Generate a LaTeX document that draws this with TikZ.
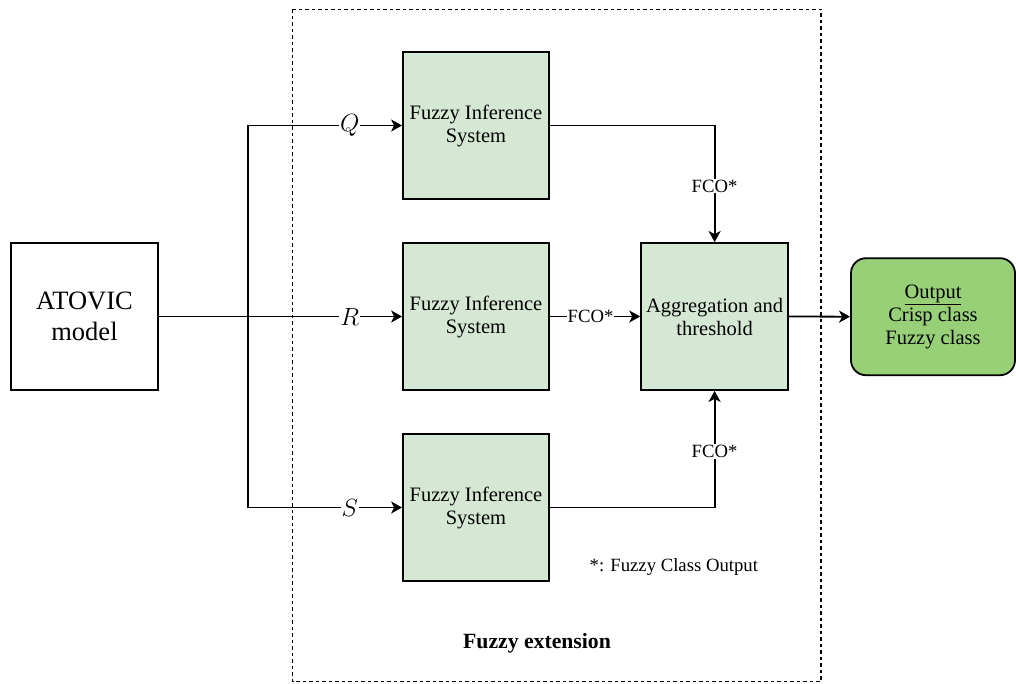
\documentclass[tikz,border=0pt]{standalone}
\usepackage{fontspec}
\setmainfont{Liberation Serif}
\usetikzlibrary{arrows.meta}
\definecolor{fisgreen}{HTML}{D5E8D4}
\definecolor{outgreen}{HTML}{97D077}

\begin{document}
\begin{tikzpicture}[x=1pt,y=-1pt,
  line width=1.8pt,
  block/.style={draw=black, line width=1.8pt, align=center, inner sep=0pt,
    minimum width=146pt, minimum height=147pt,
    font=\fontsize{20.5}{23}\selectfont},
  fisbox/.style={block, fill=fisgreen},
  outbox/.style={draw=black, line width=1.8pt, fill=outgreen, rounded corners=15pt,
    align=center, inner sep=0pt, minimum width=164pt, minimum height=117pt,
    font=\fontsize{20.5}{23}\selectfont},
  frame/.style={draw=black, line width=1.4pt, dash pattern=on 3.5pt off 3pt},
  conn/.style={draw=black, line width=1.8pt},
  arr/.style={conn, -{Stealth[length=11pt,width=12pt,inset=3pt]}},
  varlabel/.style={fill=white, inner sep=1pt, font=\fontsize{23}{25}\selectfont},
  fcolabel/.style={fill=white, inner sep=1pt, font=\fontsize{18.7}{20}\selectfont}
]
\useasboundingbox (0,0) rectangle (1016,684);

% dashed frame of the fuzzy extension
\draw[frame] (292.7,9.3) rectangle (821,681.7);

% blocks
\node[block, minimum width=147pt, font=\fontsize{26.5}{31}\selectfont] (atovic) at (84.5,316.5) {ATOVIC\\model};
\node[fisbox] (fisq) at (476,125.5) {Fuzzy Inference\\System};
\node[fisbox] (fisr) at (476,316.5) {Fuzzy Inference\\System};
\node[fisbox] (fiss) at (476,507.5) {Fuzzy Inference\\System};
\node[fisbox, minimum width=147pt] (agg) at (714.6,316.5) {Aggregation and\\threshold};
\node[outbox] (out) at (933,316.7) {\underline{Output}\\Crisp class\\Fuzzy class};

% split point of the model output
\coordinate (split) at (248.3,316.5);

% model to the three inference systems
\draw[conn] (atovic.east) -- (split);
\draw[arr] (split) |- node[varlabel, pos=0.83] {$Q$} (fisq.west);
\draw[arr] (split) -- node[varlabel, pos=0.66] {$R$} (fisr.west);
\draw[arr] (split) |- node[varlabel, pos=0.83] {$S$} (fiss.west);

% inference systems to the aggregation
\draw[arr] (fisq.east) -| node[fcolabel, pos=0.76] {FCO*} (agg.north);
\draw[arr] (fisr.east) -- node[fcolabel, pos=0.45] {FCO*} (agg.west);
\draw[arr] (fiss.east) -| node[fcolabel, pos=0.74] {FCO*} (agg.south);

% aggregation to the output
\draw[arr] (agg.east) -- (out.west);

% notes
\node[font=\fontsize{18.7}{20}\selectfont] (note) at (673.8,566.7) {*: Fuzzy Class Output};
\node[anchor=base, font=\fontsize{21.7}{24}\selectfont\bfseries] (extlabel) at (537,648) {Fuzzy extension};
\end{tikzpicture}
\end{document}
